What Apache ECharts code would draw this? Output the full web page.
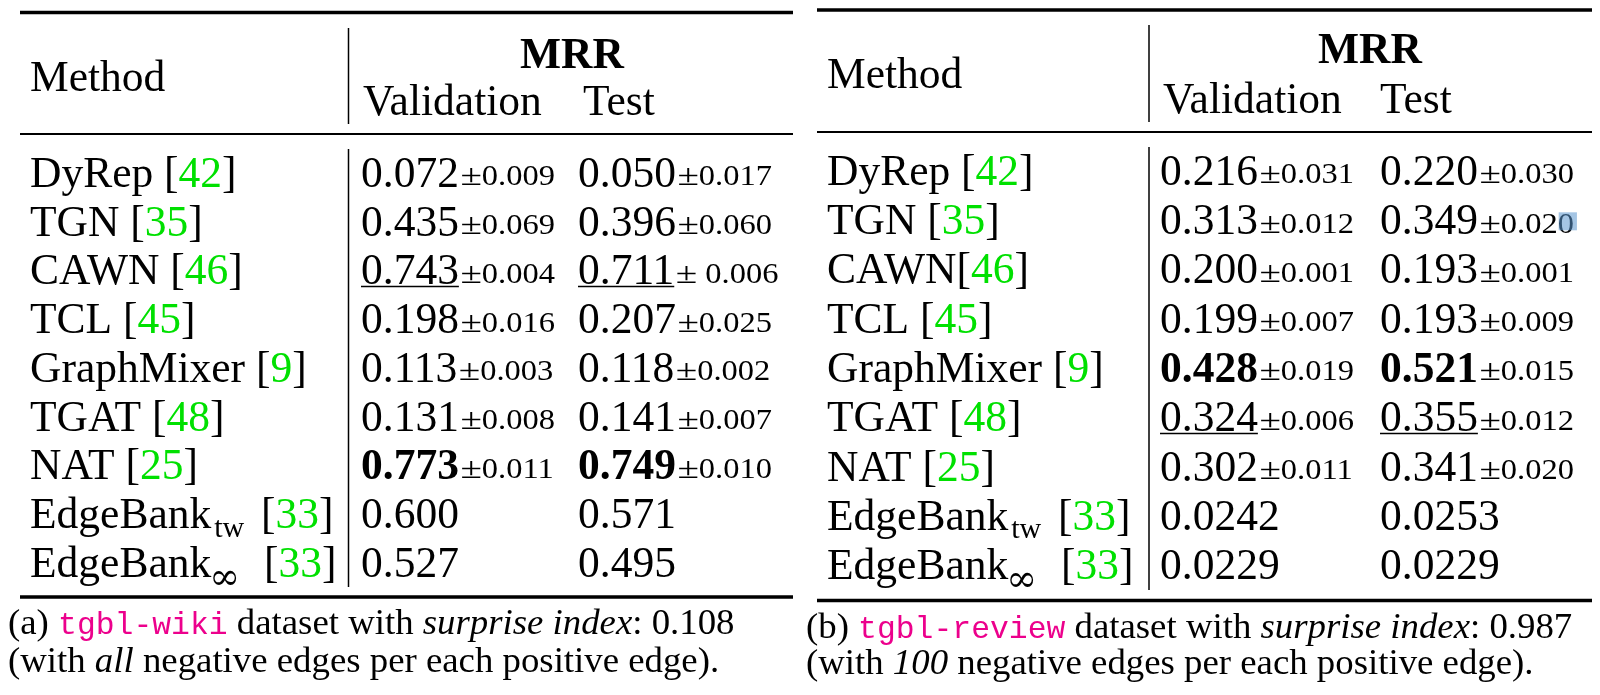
<!DOCTYPE html>
<html>
<head>
<meta charset="utf-8">
<script src="https://cdn.jsdelivr.net/npm/echarts@6/dist/echarts.min.js"></script>
</head>
<body style="margin:0;background:#fff">
<div id="container" style="width:1600px;height:695px"></div>
<script>
// ---- table data ----
var methods = ['DyRep', 'TGN', 'CAWN', 'TCL', 'GraphMixer', 'TGAT', 'NAT', 'EdgeBank', 'EdgeBank'];
var methodSubs = ['', '', '', '', '', '', '', 'tw', '∞'];
var methodRefs = ['42', '35', '46', '45', '9', '48', '25', '33', '33'];

var wikiValMean  = ['0.072', '0.435', '0.743', '0.198', '0.113', '0.131', '0.773', '0.600', '0.527'];
var wikiValStd   = ['0.009', '0.069', '0.004', '0.016', '0.003', '0.008', '0.011', '', ''];
var wikiTestMean = ['0.050', '0.396', '0.711', '0.207', '0.118', '0.141', '0.749', '0.571', '0.495'];
var wikiTestStd  = ['0.017', '0.060', ' 0.006', '0.025', '0.002', '0.007', '0.010', '', ''];
var wikiBest = 6, wikiSecond = 2;

var reviewValMean  = ['0.216', '0.313', '0.200', '0.199', '0.428', '0.324', '0.302', '0.0242', '0.0229'];
var reviewValStd   = ['0.031', '0.012', '0.001', '0.007', '0.019', '0.006', '0.011', '', ''];
var reviewTestMean = ['0.220', '0.349', '0.193', '0.193', '0.521', '0.355', '0.341', '0.0253', '0.0229'];
var reviewTestStd  = ['0.030', '0.020', '0.001', '0.009', '0.015', '0.012', '0.020', '', ''];
var reviewBest = 4, reviewSecond = 5;

var headers = ['Method', 'MRR', 'Validation', 'Test'];

var wikiCaption = [
  [['(a) ', 'n'], ['tgbl-wiki', 'tt'], [' dataset with ', 'n'], ['surprise index', 'it'], [': 0.108', 'n']],
  [['(with ', 'n'], ['all', 'it'], [' negative edges per each positive edge).', 'n']]
];
var reviewCaption = [
  [['(b) ', 'n'], ['tgbl-review', 'tt'], [' dataset with ', 'n'], ['surprise index', 'it'], [': 0.987', 'n']],
  [['(with ', 'n'], ['100', 'it'], [' negative edges per each positive edge).', 'n']]
];

// ---- styling / layout ----
var FAM = '"Liberation Serif", "Times New Roman", serif';
var MONO = '"Liberation Mono", "DejaVu Sans Mono", monospace';
var GREEN = '#00e000', PINK = '#ec008c';
var MAIN = 43.5, SMALL = 29, CAP = 36.8;
var MID = 0.15; // offset from zrender's middle anchor down to the alphabetic baseline, in em

var layouts = [
  {x0: 20, x1: 793, top: 12.5, mid: 134, bottom: 597, vx: 348.5, vHead: [28, 124], vBody: [149, 587],
   methodX: 30, methodY: 86, mrrX: 572, mrrY: 63, subY: 110, valX: 363, testX: 583,
   col1: 361, col2: 578, row0: 182, rowStep: 48.75, capX: 8, capY: [630, 668]},
  {x0: 817, x1: 1592, top: 10, mid: 132, bottom: 600.5, vx: 1149, vHead: [25, 122], vBody: [147, 590],
   methodX: 827, methodY: 83, mrrX: 1370, mrrY: 58, subY: 108, valX: 1163, testX: 1380,
   col1: 1160, col2: 1380, row0: 180, rowStep: 49.3, capX: 806, capY: [634, 670]}
];

var tables = [
  {lay: layouts[0], vm: wikiValMean, vs: wikiValStd, tm: wikiTestMean, ts: wikiTestStd,
   best: wikiBest, second: wikiSecond, noSpace: [], caption: wikiCaption},
  {lay: layouts[1], vm: reviewValMean, vs: reviewValStd, tm: reviewTestMean, ts: reviewTestStd,
   best: reviewBest, second: reviewSecond, noSpace: [2], caption: reviewCaption}
];

var ctx = document.createElement('canvas').getContext('2d');
function fontStr(s) {
  return (s.style || 'normal') + ' ' + (s.weight || 'normal') + ' ' + s.size + 'px ' + (s.family || FAM);
}
function textWidth(s, t) {
  ctx.font = fontStr(s);
  return ctx.measureText(t).width;
}

var els = [];

function textEl(x, base, s, align) {
  return {
    type: 'text', x: x, y: base + (s.dy || 0) - MID * s.size,
    scaleX: s.sx || 1, scaleY: 1, originX: 0, originY: 0,
    style: {
      text: s.t, font: fontStr(s), fill: s.color || '#000',
      textAlign: align || 'left', align: align || 'left',
      textVerticalAlign: 'middle', verticalAlign: 'middle'
    }
  };
}

// lay segments out one after another on a common baseline
function run(x, base, segs) {
  segs.forEach(function (s) {
    x += s.padL || 0;
    els.push(textEl(x, base, s));
    x += textWidth(s, s.t) * (s.sx || 1) + (s.padR || 0);
  });
  return x;
}

function line(x1, y1, x2, y2, w) {
  els.push({type: 'line', shape: {x1: x1, y1: y1, x2: x2, y2: y2}, style: {stroke: '#000', lineWidth: w}});
}

function cell(x, base, mean, std, bold, under) {
  var m = {t: mean, size: MAIN, weight: bold ? 'bold' : 'normal'};
  var w = textWidth(m, mean);
  run(x, base, [m]);
  if (under) line(x, base + 7, x + w, base + 7, 1.6);
  if (!std) return x + w;
  return run(x + w + 1.5, base, [
    {t: '±', size: SMALL, sx: 1.35},
    {t: std, size: SMALL, sx: 1.12}
  ]);
}

tables.forEach(function (tb, k) {
  var L = tb.lay;
  // rules
  line(L.x0, L.top, L.x1, L.top, 3.5);
  line(L.x0, L.mid, L.x1, L.mid, 2);
  line(L.x0, L.bottom, L.x1, L.bottom, 3.5);
  line(L.vx, L.vHead[0], L.vx, L.vHead[1], 1.5);
  line(L.vx, L.vBody[0], L.vx, L.vBody[1], 1.5);

  // header
  run(L.methodX, L.methodY, [{t: headers[0], size: MAIN}]);
  els.push(textEl(L.mrrX, L.mrrY, {t: headers[1], size: MAIN, weight: 'bold'}, 'center'));
  run(L.valX, L.subY, [{t: headers[2], size: MAIN}]);
  run(L.testX, L.subY, [{t: headers[3], size: MAIN}]);

  // rows
  methods.forEach(function (name, i) {
    var base = L.row0 + i * L.rowStep;
    var segs = [{t: name, size: MAIN}];
    if (methodSubs[i] === 'tw') {
      segs.push({t: 'tw', size: 30, dy: 10, padL: 3, padR: 6});
    } else if (methodSubs[i]) {
      segs.push({t: methodSubs[i], size: 37, family: '"DejaVu Serif", serif', dy: 13, padL: -2, padR: 13});
    }
    var sp = tb.noSpace.indexOf(i) >= 0 ? '' : ' ';
    segs.push({t: sp + '[', size: MAIN}, {t: methodRefs[i], size: MAIN, color: GREEN}, {t: ']', size: MAIN});
    run(L.methodX, base, segs);

    cell(L.col1, base, tb.vm[i], tb.vs[i], i === tb.best, i === tb.second);
    var end = cell(L.col2, base, tb.tm[i], tb.ts[i], i === tb.best, i === tb.second);

    // selection highlight left over the last glyph of one review cell
    if (k === 1 && i === 1) {
      var cw = textWidth({size: SMALL}, '0') * 1.12;
      els.push({type: 'rect', shape: {x: end - cw + 1, y: base - 17, width: cw + 2, height: 18},
        style: {fill: 'rgba(90,150,205,0.55)'}});
    }
  });

  // caption
  tb.caption.forEach(function (ln, j) {
    run(L.capX, L.capY[j], ln.map(function (p) {
      if (p[1] === 'tt') return {t: p[0], size: 31.4, family: MONO, color: PINK};
      if (p[1] === 'it') return {t: p[0], size: CAP, style: 'italic'};
      return {t: p[0], size: CAP};
    }));
  });
});

var myChart = echarts.init(document.getElementById('container'));
myChart.setOption({
  animation: false,
  backgroundColor: '#fff',
  graphic: {elements: els}
});
</script>
</body>
</html>
